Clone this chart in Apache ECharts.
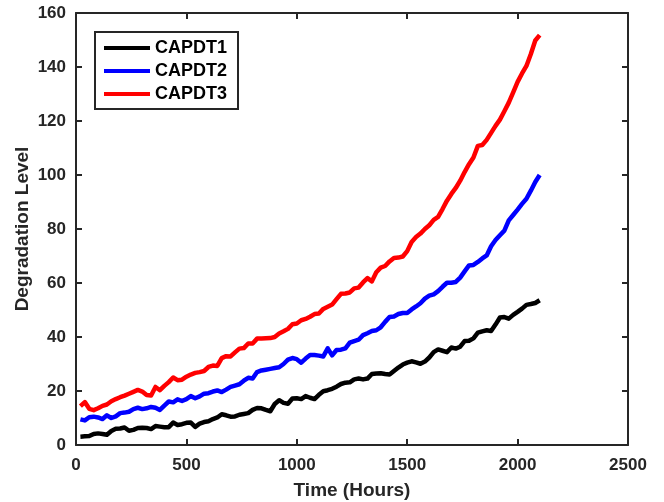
<!DOCTYPE html>
<html>
<head>
<meta charset="utf-8">
<script src="https://cdn.jsdelivr.net/npm/echarts@6/dist/echarts.min.js"></script>
<style>
  html, body { margin: 0; padding: 0; background: #fff; }
  #chart { width: 664px; height: 502px; }
</style>
</head>
<body>
<div id="chart"></div>
<script>
// Sampling times (hours)
const hours = [];
for (let h = 20; h <= 2100; h += 20) hours.push(h);

const capdt1 = [
  3.1, 3.2, 3.3, 4.1, 4.3, 4.1, 3.8, 5.2, 6.0, 6.1,
  6.5, 5.3, 5.6, 6.3, 6.4, 6.3, 5.9, 7.0, 6.8, 6.6,
  6.6, 8.3, 7.4, 7.7, 8.2, 8.3, 6.7, 7.9, 8.5, 8.8,
  9.6, 10.2, 11.4, 11.0, 10.5, 10.6, 11.2, 11.5, 11.8, 13.0,
  13.7, 13.6, 13.0, 12.5, 15.2, 16.6, 15.6, 15.3, 17.2, 17.3,
  17.0, 18.1, 17.5, 17.0, 18.6, 19.9, 20.3, 20.8, 21.6, 22.6,
  23.1, 23.2, 24.3, 24.6, 24.3, 24.6, 26.3, 26.5, 26.6, 26.3,
  26.1, 27.4, 28.7, 29.8, 30.5, 31.0, 30.6, 30.1, 30.9, 32.4,
  34.4, 35.4, 34.9, 34.4, 36.1, 35.7, 36.4, 38.5, 38.6, 39.5,
  41.6, 42.1, 42.5, 42.2, 44.6, 47.2, 47.4, 46.8, 48.2, 49.3,
  50.5, 51.9, 52.2, 52.6, 53.6
];

const capdt2 = [
  9.5, 9.1, 10.3, 10.5, 10.2, 9.6, 11.0, 10.0, 10.6, 11.8,
  12.0, 12.3, 13.3, 13.8, 13.3, 13.6, 14.1, 13.8, 13.0, 14.6,
  16.1, 15.8, 16.9, 16.3, 17.0, 18.1, 17.3, 18.0, 19.0, 19.2,
  19.8, 20.2, 19.6, 20.5, 21.5, 22.0, 22.5, 23.8, 24.9, 24.6,
  27.0, 27.6, 27.9, 28.2, 28.5, 28.8, 30.0, 31.6, 32.2, 31.8,
  30.5, 32.0, 33.3, 33.3, 33.1, 32.8, 35.8, 33.2, 35.2, 35.3,
  35.8, 37.9, 38.5, 39.0, 40.7, 41.4, 42.2, 42.5, 43.6, 45.6,
  47.4, 47.6, 48.5, 48.9, 48.9, 50.2, 51.3, 52.5, 54.2, 55.3,
  55.8, 57.0, 58.6, 60.1, 60.1, 60.4, 62.0, 64.3, 66.5, 66.7,
  67.8, 69.1, 70.2, 73.6, 75.9, 77.7, 79.4, 83.2, 85.2, 87.2,
  89.3, 91.2, 94.2, 97.4, 100.0
];

const capdt3 = [
  14.4, 15.9, 13.4, 12.9, 13.6, 14.5, 15.0, 16.2, 17.0, 17.7,
  18.3, 19.0, 19.7, 20.4, 19.8, 18.5, 18.3, 21.5, 20.3, 21.9,
  23.3, 25.0, 24.0, 24.2, 25.3, 26.1, 26.7, 27.0, 27.4, 28.9,
  29.4, 29.3, 32.2, 32.9, 32.8, 34.3, 35.7, 35.9, 37.6, 37.6,
  39.4, 39.4, 39.5, 39.6, 40.0, 41.3, 42.1, 43.0, 44.7, 45.0,
  46.2, 46.7, 47.5, 48.5, 48.7, 50.4, 51.2, 52.0, 54.0, 56.0,
  56.1, 56.5, 58.0, 58.3, 60.2, 61.8, 60.6, 64.0, 65.7, 66.3,
  68.0, 69.3, 69.4, 69.8, 71.8, 75.2, 77.0, 78.3, 80.0, 81.4,
  83.4, 84.5, 87.4, 90.5, 93.0, 95.2, 97.9, 101.1, 104.0, 106.5,
  110.8, 111.1, 113.0, 115.6, 118.2, 120.5, 123.6, 126.8, 130.6, 134.5,
  137.6, 140.4, 144.8, 149.8, 151.8
];

const seriesNames = ['CAPDT1', 'CAPDT2', 'CAPDT3'];
const seriesColors = ['#000000', '#0000ff', '#ff0000'];
const seriesValues = [capdt1, capdt2, capdt3];

const FONT = 'Liberation Sans, Arial, sans-serif';
const AXIS_COLOR = '#262626';

const boxLine = { show: true, onZero: false, lineStyle: { color: AXIS_COLOR, width: 2 } };
const inTick = { show: true, inside: true, length: 6, lineStyle: { color: AXIS_COLOR, width: 2 } };
const tickLabel = { color: AXIS_COLOR, fontFamily: FONT, fontWeight: 'bold', fontSize: 17, formatter: v => String(v) };
const nameStyle = { color: AXIS_COLOR, fontFamily: FONT, fontWeight: 'bold', fontSize: 19 };

const chart = echarts.init(document.getElementById('chart'), null, { renderer: 'canvas' });

chart.setOption({
  animation: false,
  backgroundColor: '#ffffff',
  grid: { left: 76, right: 36, top: 13, bottom: 57, containLabel: false, outerBoundsMode: 'none' },
  legend: {
    data: seriesNames,
    orient: 'vertical',
    left: 95,
    top: 32,
    padding: [7, 11, 6, 9],
    itemGap: 5,
    itemWidth: 46,
    itemHeight: 4,
    icon: 'rect',
    borderColor: AXIS_COLOR,
    borderWidth: 2,
    backgroundColor: '#ffffff',
    textStyle: { color: '#000', fontFamily: FONT, fontWeight: 'bold', fontSize: 18 }
  },
  xAxis: [
    {
      type: 'value', min: 0, max: 2500, interval: 500,
      name: 'Time (Hours)', nameLocation: 'middle', nameGap: 36, nameMoveOverlap: false,
      nameTextStyle: nameStyle,
      axisLine: boxLine, axisTick: inTick,
      axisLabel: Object.assign({ margin: 12 }, tickLabel),
      splitLine: { show: false }
    },
    {
      type: 'value', min: 0, max: 2500, interval: 500, position: 'top',
      axisLine: boxLine, axisTick: inTick, axisLabel: { show: false }, splitLine: { show: false }
    }
  ],
  yAxis: [
    {
      type: 'value', min: 0, max: 160, interval: 20,
      name: 'Degradation Level', nameLocation: 'middle', nameGap: 44, nameMoveOverlap: false,
      nameTextStyle: nameStyle,
      axisLine: boxLine, axisTick: inTick,
      axisLabel: Object.assign({ margin: 10 }, tickLabel),
      splitLine: { show: false }
    },
    {
      type: 'value', min: 0, max: 160, interval: 20, position: 'right',
      axisLine: boxLine, axisTick: inTick, axisLabel: { show: false }, splitLine: { show: false }
    }
  ],
  series: seriesNames.map((name, i) => ({
    name: name,
    type: 'line',
    xAxisIndex: 0,
    yAxisIndex: 0,
    showSymbol: false,
    symbol: 'none',
    color: seriesColors[i],
    lineStyle: { color: seriesColors[i], width: 4.5, join: 'round' },
    data: hours.map((h, k) => [h, seriesValues[i][k]])
  }))
});
</script>
</body>
</html>
